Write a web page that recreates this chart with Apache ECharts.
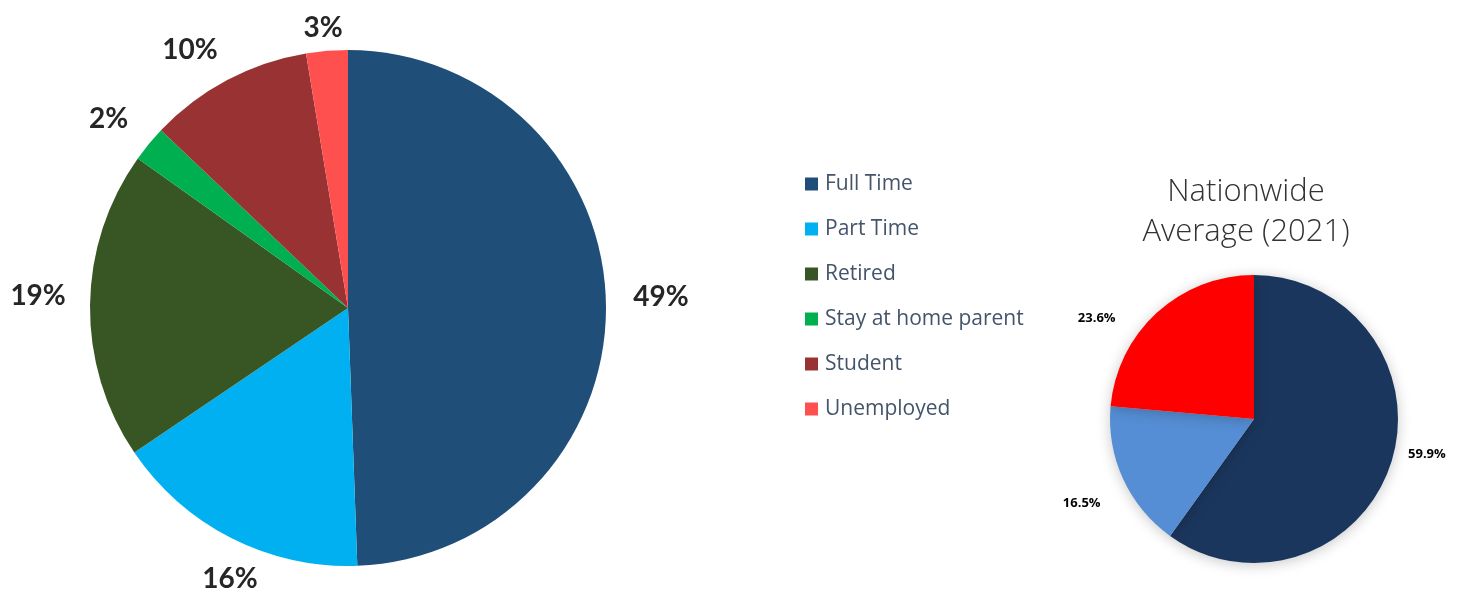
<!DOCTYPE html>
<html>
<head>
<meta charset="utf-8">
<script src="https://cdn.jsdelivr.net/npm/echarts@6/dist/echarts.min.js"></script>
<style>
html,body{margin:0;padding:0;background:#fff;}
#c{width:1467px;height:592px;}
</style>
</head>
<body>
<div id="c"></div>
<script>
// Local survey: employment status
const categories = ['Full Time', 'Part Time', 'Retired', 'Stay at home parent', 'Student', 'Unemployed'];
const values = [49.4, 16.1, 19.3, 2.25, 10.3, 2.6];
const colors = ['#1F4E79', '#00B0F0', '#375623', '#00B050', '#993333', '#FF5050'];

// Nationwide average (2021)
const natCategories = ['Nationwide Full Time', 'Nationwide Part Time', 'Nationwide Other'];
const natValues = [59.9, 16.5, 23.6];
const natColors = ['#1B365D', '#558ED5', '#FF0000'];

// layout / styling (label placement offsets, not data)
const BIG = { cx: 348, cy: 308, r: 258, gx: 24, gy: 5,
  nudge: [[3, -5], [17, 5], [0, -8], [-5, 4], [-18, 6], [-2, 0]] };
const SMALL = { cx: 1254, cy: 419, r: 144, gx: 18, gy: 12,
  nudge: [[-3, -21], [-4, 7], [-34, 34]] };

function makeLabelLayout(vals, g) {
  const total = vals.reduce((a, b) => a + b, 0);
  return function (p) {
    let cum = 0;
    for (let i = 0; i < p.dataIndex; i++) cum += vals[i];
    const mid = (cum + vals[p.dataIndex] / 2) / total * Math.PI * 2;
    const sx = Math.sin(mid), sy = -Math.cos(mid);
    const w = p.labelRect.width, h = p.labelRect.height;
    const d = g.r + g.gx * Math.abs(sx) + g.gy * Math.abs(sy) + Math.abs(sx) * w / 2 + Math.abs(sy) * h / 2;
    const n = g.nudge[p.dataIndex] || [0, 0];
    return { x: g.cx + sx * d + n[0], y: g.cy + sy * d + n[1], align: 'center', verticalAlign: 'middle' };
  };
}

const chart = echarts.init(document.getElementById('c'), null, { renderer: 'canvas' });
chart.setOption({
  animation: false,
  backgroundColor: '#ffffff',
  title: {
    text: 'Nationwide\nAverage (2021)',
    left: 1246,
    top: 172,
    padding: 0,
    textAlign: 'center',
    textStyle: { fontFamily: 'Open Sans', fontWeight: 300, fontSize: 31, color: '#333333', lineHeight: 40 }
  },
  legend: {
    data: categories,
    orient: 'vertical',
    left: 805,
    top: 172,
    padding: 0,
    icon: 'rect',
    itemWidth: 13,
    itemHeight: 13,
    itemGap: 21,
    selectedMode: false,
    textStyle: { fontFamily: 'Open Sans', fontSize: 21, color: '#44546A', lineHeight: 24, padding: [0, 0, 0, 2] }
  },
  series: [
    {
      type: 'pie',
      center: [BIG.cx, BIG.cy],
      radius: [0, BIG.r],
      startAngle: 90,
      clockwise: true,
      avoidLabelOverlap: false,
      label: {
        show: true,
        position: 'outside',
        formatter: p => Math.round(p.value) + '%',
        fontFamily: 'Lato',
        fontWeight: 'bold',
        fontSize: 28,
        color: '#262626'
      },
      labelLine: { show: false },
      labelLayout: makeLabelLayout(values, BIG),
      itemStyle: { borderWidth: 0 },
      emphasis: { disabled: true },
      data: categories.map((n, i) => ({ name: n, value: values[i], itemStyle: { color: colors[i] } }))
    },
    {
      type: 'pie',
      center: [SMALL.cx, SMALL.cy],
      radius: [0, SMALL.r],
      startAngle: 90,
      clockwise: true,
      avoidLabelOverlap: false,
      label: {
        show: true,
        position: 'outside',
        formatter: p => p.value.toFixed(1) + '%',
        fontFamily: 'Open Sans',
        fontWeight: 'bold',
        fontSize: 13,
        color: '#000000'
      },
      labelLine: { show: false },
      labelLayout: makeLabelLayout(natValues, SMALL),
      itemStyle: { borderWidth: 0, shadowBlur: 14, shadowColor: 'rgba(0,0,0,0.22)', shadowOffsetY: 2 },
      emphasis: { disabled: true },
      data: natCategories.map((n, i) => ({ name: n, value: natValues[i], itemStyle: { color: natColors[i] } }))
    }
  ]
});
</script>
</body>
</html>
